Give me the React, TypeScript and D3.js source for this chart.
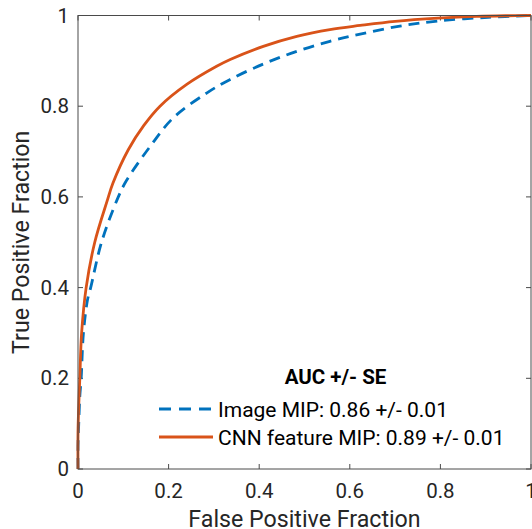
import React from "react";
import * as d3 from "d3";

const cnnFpr = [0, 0, 0.002, 0.004, 0.008, 0.018, 0.037, 0.064, 0.077, 0.111, 0.145, 0.181, 0.240, 0.306, 0.336, 0.409, 0.483, 0.556, 0.623, 0.700, 0.795, 0.880, 0.950, 1.0];
const cnnTpr = [0, 0.08, 0.15, 0.20, 0.30, 0.40, 0.50, 0.59, 0.630, 0.704, 0.757, 0.800, 0.848, 0.888, 0.903, 0.932, 0.954, 0.969, 0.978, 0.987, 0.994, 0.998, 0.9995, 1.0];

const imgFpr = [0, 0, 0.002, 0.004, 0.007, 0.012, 0.021, 0.028, 0.052, 0.089, 0.107, 0.159, 0.210, 0.284, 0.336, 0.409, 0.483, 0.556, 0.623, 0.707, 0.795, 0.906, 1.0];
const imgTpr = [0, 0.05, 0.11, 0.16, 0.20, 0.30, 0.373, 0.40, 0.50, 0.60, 0.636, 0.711, 0.774, 0.829, 0.859, 0.893, 0.921, 0.943, 0.959, 0.976, 0.988, 0.996, 1.0];

const tickValues = [0, 0.2, 0.4, 0.6, 0.8, 1];
const tickLabels = ["0", "0.2", "0.4", "0.6", "0.8", "1"];
const legendTitle = "AUC +/- SE";
const seriesNames = ["Image MIP: 0.86 +/- 0.01", "CNN feature MIP: 0.89 +/- 0.01"];
const seriesColors = ["#0072BD", "#D95319"];

const W = 532, H = 529;
const L = 78, R = 531, T = 15.5, B = 469;
const FONT = "Roboto, sans-serif";
const AX = "#4a4a4a";
const TXT = "#262626";

export default function App() {
  const x = d3.scaleLinear().domain([0, 1]).range([L, R]);
  const y = d3.scaleLinear().domain([0, 1]).range([B, T]);
  const line = d3
    .line<[number, number]>()
    .x((d) => x(d[0]))
    .y((d) => y(d[1]))
    .curve(d3.curveCatmullRom.alpha(0.5));
  const imgPts = imgFpr.map((f, i) => [f, imgTpr[i]] as [number, number]);
  const cnnPts = cnnFpr.map((f, i) => [f, cnnTpr[i]] as [number, number]);
  const tl = 5;

  return (
    <svg width={W} height={H} style={{ position: "absolute", left: 0, top: 0, background: "#fff" }} fontFamily={FONT}>
      <rect x={0} y={0} width={W} height={H} fill="#fff" />
      {tickValues.map((v, i) => (
        <g key={"t" + i} stroke={AX} strokeWidth={1}>
          <line x1={x(v)} x2={x(v)} y1={B} y2={B - tl} />
          <line x1={x(v)} x2={x(v)} y1={T} y2={T + tl} />
          <line x1={L} x2={L + tl} y1={y(v)} y2={y(v)} />
          <line x1={R} x2={R - tl} y1={y(v)} y2={y(v)} />
        </g>
      ))}
      <path d={line(imgPts) || ""} fill="none" stroke={seriesColors[0]} strokeWidth={2.8} strokeDasharray="11 7" />
      <path d={line(cnnPts) || ""} fill="none" stroke={seriesColors[1]} strokeWidth={2.8} />
      <rect x={L} y={T} width={R - L} height={B - T} fill="none" stroke={AX} strokeWidth={1} />
      {tickValues.map((v, i) => (
        <text key={"xl" + i} x={x(v)} y={498} textAnchor="middle" fontSize={20.5} fill={TXT}>
          {tickLabels[i]}
        </text>
      ))}
      {tickValues.map((v, i) => (
        <text key={"yl" + i} x={69} y={y(v) + 7} textAnchor="end" fontSize={20.5} fill={TXT}>
          {tickLabels[i]}
        </text>
      ))}
      <text x={(L + R) / 2} y={527} textAnchor="middle" fontSize={23.2} fill={TXT}>
        False Positive Fraction
      </text>
      <text transform={`translate(29,${(T + B) / 2}) rotate(-90)`} textAnchor="middle" fontSize={23.2} fill={TXT}>
        True Positive Fraction
      </text>
      <text x={335.5} y={384} textAnchor="middle" fontSize={20.5} fontWeight="bold" fill="#000">
        {legendTitle}
      </text>
      <line x1={159} x2={213} y1={409} y2={409} stroke={seriesColors[0]} strokeWidth={2.8} strokeDasharray="12 8" />
      <text x={218} y={416.5} fontSize={21} fill="#000">{seriesNames[0]}</text>
      <line x1={159} x2={213} y1={437} y2={437} stroke={seriesColors[1]} strokeWidth={2.8} />
      <text x={218} y={445} fontSize={21} fill="#000">{seriesNames[1]}</text>
    </svg>
  );
}
